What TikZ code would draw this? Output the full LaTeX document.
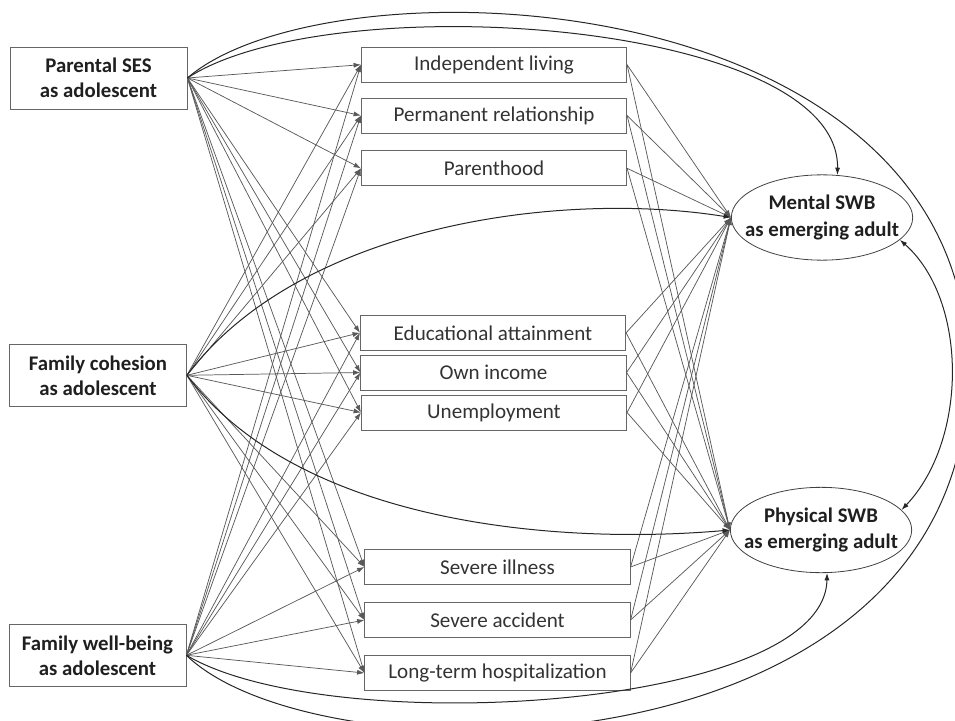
\documentclass[tikz,border=0pt]{standalone}
\usepackage{fontspec}
\setmainfont{Carlito}
\usetikzlibrary{arrows.meta,shapes.geometric}
\begin{document}
\begin{tikzpicture}[x=0.75pt,y=-0.75pt,
 leftbox/.style={draw=black!60, line width=0.6pt, minimum width=132.75pt, minimum height=46.5pt, align=center, font=\fontsize{15.6}{18.75}\selectfont\bfseries, text=black!88, inner sep=0pt},
 midbox/.style={draw=black!60, line width=0.6pt, minimum width=199pt, minimum height=26.25pt, font=\fontsize{15.8}{18}\selectfont, text=black!80, inner sep=0pt},
 outbox/.style={ellipse, draw=black!75, line width=0.6pt, minimum width=136pt, minimum height=64pt, inner sep=0pt},
 outtext/.style={align=center, inner sep=0pt, font=\fontsize{15.6}{20}\selectfont\bfseries, text=black!88},
 ln/.style={draw=black!65, line width=0.55pt, -{Latex[length=5.5pt,width=3.8pt]}},
 cv/.style={draw=black!85, line width=0.75pt, -{Latex[length=5.5pt,width=3.8pt]}},
 cvboth/.style={draw=black!85, line width=0.75pt, {Latex[length=5.5pt,width=3.8pt]}-{Latex[length=5.5pt,width=3.8pt]}},
 cvplain/.style={draw=black!85, line width=0.75pt},
]
\useasboundingbox (0,0) rectangle (955,720);

% left boxes
\node[leftbox] (pses) at (98.5,78) {Parental SES\\as adolescent};
\node[leftbox] (fc)   at (98,375.3) {Family cohesion\\as adolescent};
\node[leftbox] (fwb)  at (97.5,655.3) {Family well-being\\as adolescent};

% middle boxes
\node[midbox] (m1) at (494,64.7)  {Independent living};
\node[midbox] (m2) at (494,115.5) {Permanent relationship};
\node[midbox] (m3) at (494,168.3) {Parenthood};
\node[midbox] (m4) at (493,332.8) {Educational attainment};
\node[midbox] (m5) at (493.5,372.5) {Own income};
\node[midbox] (m6) at (494,412.5) {Unemployment};
\node[midbox] (m7) at (497.5,567) {Severe illness};
\node[midbox] (m8) at (497.5,620) {Severe accident};
\node[midbox] (m9) at (497.5,673) {Long-term hospitalization};

% outcome ellipses
\node[outbox] (ment) at (822,217.5) {};
\node[outtext] (mentT) at (ment.center) {Mental SWB\\as emerging adult};
\node[outbox] (phys) at (821,530) {};
\node[outtext] (physT) at (phys.center) {Physical SWB\\as emerging adult};

% straight paths
\foreach \s in {pses,fc,fwb}{
  \foreach \m in {m1,m2,m3,m4,m5,m6,m7,m8,m9}{
    \draw[ln] (\s.east) -- (\m.west);
  }
}
\foreach \m in {m1,m2,m3,m4,m5,m6,m7,m8,m9}{
  \draw[ln] (\m.east) -- (ment.west);
  \draw[ln] (\m.east) -- (phys.west);
}

% curved paths
\draw[cv] (pses.east) .. controls (330,-15) and (840,20) .. (ment.70);
\coordinate (rgt) at (968,370);
\draw[cvplain] (pses.east) .. controls (330,-45) and (968,-20) .. (rgt)
   .. controls (968,780) and (320,785) .. (fwb.east);
\draw[cv] (fc.east) .. controls (300,225) and (560,190) .. (ment.west);
\draw[cv] (fc.east) .. controls (300,525) and (560,545) .. (phys.west);
\draw[cv] (fwb.east) .. controls (330,740) and (825,710) .. (phys.-82);
\draw[cvboth] (ment.-16) .. controls (968,300) and (968,440) .. (phys.14);
\end{tikzpicture}
\end{document}
